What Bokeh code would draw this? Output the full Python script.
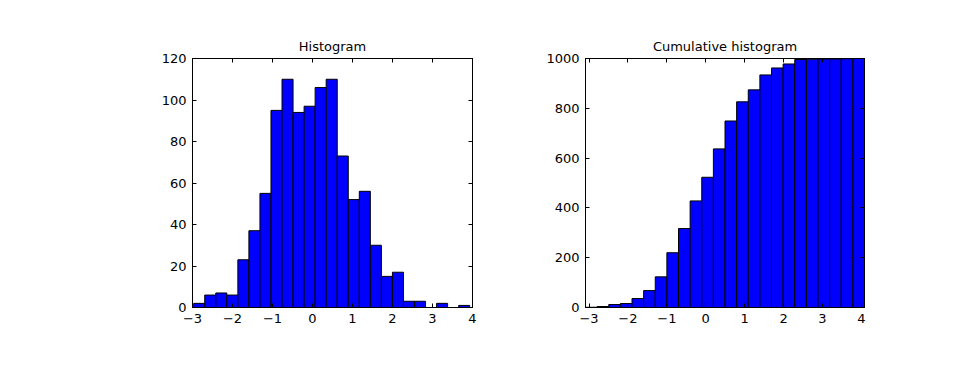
import numpy as np
from bokeh.plotting import figure
from bokeh.layouts import row
from bokeh.models import LinearAxis, FixedTicker, CustomJSTickFormatter, Range1d
from bokeh.embed import file_html
from bokeh.resources import INLINE

# ---- data ----
hist_counts = [2, 6, 7, 6, 23, 37, 55, 95, 110, 94, 97, 106, 110, 73, 52, 56,
               30, 15, 17, 3, 3, 0, 2, 0, 1]
hist_bin_min, hist_bin_max = -2.97, 3.93

cum_counts = [1, 4, 12, 16, 36, 68, 123, 220, 317, 428, 523, 637, 749, 826,
              874, 934, 962, 978, 996, 997, 998, 998, 999, 1000]
cum_bin_min, cum_bin_max = -3.09, 4.08

x_ticks = [-3, -2, -1, 0, 1, 2, 3, 4]
hist_y_ticks = [0, 20, 40, 60, 80, 100, 120]
cum_y_ticks = [0, 200, 400, 600, 800, 1000]

titles = ["Histogram", "Cumulative histogram"]

FONT = "DejaVu Sans"
fmt_code = "return tick < 0 ? '\u2212' + Math.abs(tick) : '' + tick;"


def style_axis(ax, show_labels=True):
    ax.major_tick_in = 4
    ax.major_tick_out = 0
    ax.minor_tick_line_color = None
    ax.axis_line_color = "black"
    ax.axis_line_width = 1
    ax.major_tick_line_color = "black"
    ax.major_tick_line_width = 1
    ax.major_label_text_font = FONT
    ax.major_label_text_font_size = "13px"
    ax.major_label_text_color = "black" if show_labels else None
    ax.major_label_standoff = 6
    ax.formatter = CustomJSTickFormatter(code=fmt_code)


def make_fig(title, counts, bmin, bmax, xr, yr, yticks, width, bl, br):
    edges = np.linspace(bmin, bmax, len(counts) + 1)
    p = figure(width=width, height=376, output_backend="svg", toolbar_location=None,
               x_range=Range1d(*xr), y_range=Range1d(*yr),
               min_border_left=bl, min_border_right=br,
               min_border_top=58, min_border_bottom=69)
    p.title.text = title
    p.title.align = "center"
    p.title.text_font = FONT
    p.title.text_font_size = "13px"
    p.title.text_font_style = "normal"
    p.title.text_color = "black"
    p.quad(left=edges[:-1], right=edges[1:], top=counts, bottom=0,
           fill_color="#0000ff", line_color="black", line_width=1)
    p.grid.grid_line_color = None
    p.outline_line_color = "black"
    p.background_fill_color = "white"
    p.border_fill_color = "white"
    p.xaxis.ticker = FixedTicker(ticks=x_ticks)
    p.yaxis.ticker = FixedTicker(ticks=yticks)
    style_axis(p.xaxis[0])
    style_axis(p.yaxis[0])
    top = LinearAxis(ticker=FixedTicker(ticks=x_ticks))
    right = LinearAxis(ticker=FixedTicker(ticks=yticks))
    style_axis(top, False)
    style_axis(right, False)
    p.add_layout(top, "above")
    p.add_layout(right, "right")
    return p


p1 = make_fig(titles[0], hist_counts, hist_bin_min, hist_bin_max, (-3, 4), (0, 120),
              hist_y_ticks, 488, 192, 16)
p2 = make_fig(titles[1], cum_counts, cum_bin_min, cum_bin_max, (cum_bin_min, cum_bin_max),
              (0, 1000), cum_y_ticks, 464, 97, 88)

layout = row(p1, p2)
open("out.html", "w").write(file_html(layout, INLINE))
